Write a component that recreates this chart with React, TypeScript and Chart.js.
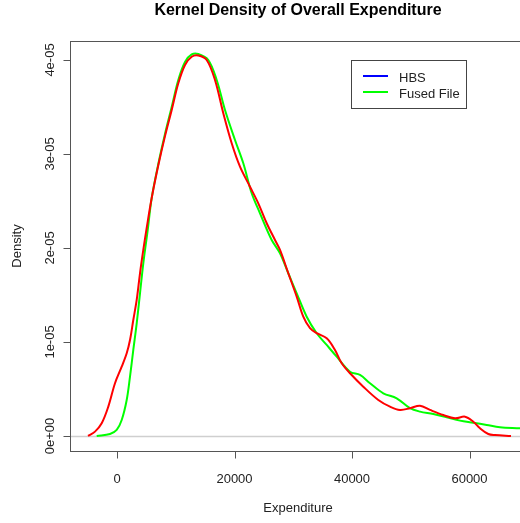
import React, { useEffect, useRef } from "react";
import { Chart, registerables } from "chart.js";

Chart.register(...registerables);

const chartTitle = "Kernel Density of Overall Expenditure";
const xAxisTitle = "Expenditure";
const yAxisTitle = "Density";
const xTicks = [0, 20000, 40000, 60000];
const xTickLabels = ["0", "20000", "40000", "60000"];
const yTicks = [0, 1e-5, 2e-5, 3e-5, 4e-5];
const yTickLabels = ["0e+00", "1e-05", "2e-05", "3e-05", "4e-05"];
const legendLabels = ["HBS", "Fused File"];
const legendColors = ["#0000ff", "#00ff00"];

// HBS kernel density (drawn red)
const hbsX = [
  -4936, -3745, -2604, -1481, -340, 800, 1651, 2213, 2774, 3353, 3915, 4477, 5055,
  5906, 7030, 8170, 9311, 10434, 11574, 12715, 13838,
  15268, 16681, 18094, 19523, 20936, 22638, 24051, 25481, 26894, 27745, 29157,
  30587, 31711, 32851, 33991, 35694, 37106, 38247, 39660, 41923, 44477, 46468,
  48170, 49872, 51574, 53277, 55540, 57532, 59234, 60647, 61787, 63200, 64340, 67063,
];
const hbsY = [
  0, 0.046e-5, 0.135e-5, 0.312e-5, 0.561e-5, 0.737e-5, 0.88e-5, 1.021e-5, 1.234e-5,
  1.447e-5, 1.731e-5, 1.979e-5, 2.213e-5,
  2.532e-5, 2.88e-5, 3.19e-5, 3.468e-5, 3.752e-5, 3.947e-5, 4.035e-5, 4.048e-5,
  4.0e-5, 3.787e-5, 3.433e-5, 3.114e-5, 2.865e-5, 2.652e-5, 2.475e-5, 2.263e-5,
  2.085e-5, 1.979e-5, 1.731e-5, 1.482e-5, 1.269e-5, 1.146e-5, 1.093e-5, 1.039e-5,
  0.915e-5, 0.773e-5, 0.667e-5, 0.524e-5, 0.383e-5, 0.312e-5, 0.277e-5, 0.295e-5,
  0.322e-5, 0.277e-5, 0.223e-5, 0.188e-5, 0.205e-5, 0.152e-5, 0.082e-5, 0.021e-5,
  0.01e-5, 0,
];

// Fused File kernel density (drawn green)
const fusedX = [
  -3455, -1191, -51, 800, 1651, 2213, 2774, 3353, 3915, 4477, 5226,
  5906, 7030, 8170, 9311, 10434, 11574, 12715, 13838,
  15540, 16970, 18383, 20085, 21498, 22928, 24340, 26332, 27745, 29157, 30587,
  32289, 33991, 35694, 37396, 39660, 41362, 43064, 45328, 47609, 49872, 51574,
  53838, 56119, 58383, 60647, 62928, 65191, 68596, 70298,
];
const fusedY = [
  0, 0.021e-5, 0.064e-5, 0.17e-5, 0.383e-5, 0.631e-5, 0.915e-5, 1.199e-5, 1.518e-5,
  1.837e-5, 2.191e-5,
  2.532e-5, 2.894e-5, 3.213e-5, 3.5e-5, 3.787e-5, 3.979e-5, 4.059e-5, 4.064e-5,
  4.0e-5, 3.787e-5, 3.468e-5, 3.149e-5, 2.901e-5, 2.582e-5, 2.369e-5, 2.085e-5,
  1.944e-5, 1.731e-5, 1.518e-5, 1.269e-5, 1.093e-5, 0.968e-5, 0.844e-5, 0.684e-5,
  0.649e-5, 0.561e-5, 0.454e-5, 0.401e-5, 0.295e-5, 0.259e-5, 0.234e-5, 0.199e-5,
  0.163e-5, 0.141e-5, 0.117e-5, 0.093e-5, 0.082e-5, 0.074e-5,
];

const FONT = '"Liberation Sans", Arial, sans-serif';

const rPlotPlugin = {
  id: "rPlot",
  beforeDatasetsDraw(chart: any) {
    const { ctx, chartArea: a, scales } = chart;
    const py = Math.round(scales.y.getPixelForValue(0)) + 0.5;
    ctx.save();
    ctx.strokeStyle = "#cfcfcf";
    ctx.lineWidth = 1.5;
    ctx.beginPath();
    ctx.moveTo(a.left, py);
    ctx.lineTo(a.right, py);
    ctx.stroke();
    ctx.restore();
  },
  afterDraw(chart: any) {
    const { ctx, chartArea: a, scales } = chart;
    const xs = scales.x;
    const ys = scales.y;
    ctx.save();
    // box
    ctx.strokeStyle = "#555555";
    ctx.lineWidth = 1;
    const L = Math.round(a.left) + 0.5;
    const T = Math.round(a.top) + 0.5;
    const R = Math.round(a.right) + 0.5;
    const B = Math.round(a.bottom) + 0.5;
    ctx.strokeRect(L, T, R - L, B - T);
    // ticks
    ctx.beginPath();
    xTicks.forEach((v) => {
      const px = Math.round(xs.getPixelForValue(v)) + 0.5;
      ctx.moveTo(px, B);
      ctx.lineTo(px, B + 7);
    });
    yTicks.forEach((v) => {
      const py = Math.round(ys.getPixelForValue(v)) + 0.5;
      ctx.moveTo(L, py);
      ctx.lineTo(L - 7, py);
    });
    ctx.stroke();
    // tick labels
    ctx.fillStyle = "#222222";
    ctx.font = `13px ${FONT}`;
    ctx.textAlign = "center";
    ctx.textBaseline = "alphabetic";
    xTicks.forEach((v, i) => {
      ctx.fillText(xTickLabels[i], xs.getPixelForValue(v), 483);
    });
    yTicks.forEach((v, i) => {
      ctx.save();
      ctx.translate(53.5, ys.getPixelForValue(v));
      ctx.rotate(-Math.PI / 2);
      ctx.fillText(yTickLabels[i], 0, 0);
      ctx.restore();
    });
    // axis titles
    const cx = (a.left + a.right) / 2;
    const cy = (a.top + a.bottom) / 2;
    ctx.fillText(xAxisTitle, cx, 512);
    ctx.save();
    ctx.translate(21, cy);
    ctx.rotate(-Math.PI / 2);
    ctx.fillText(yAxisTitle, 0, 0);
    ctx.restore();
    // main title
    ctx.font = `bold 16px ${FONT}`;
    ctx.fillStyle = "#000000";
    ctx.fillText(chartTitle, cx, 15);
    // legend
    ctx.fillStyle = "#ffffff";
    ctx.fillRect(352, 60, 115, 48);
    ctx.strokeStyle = "#444444";
    ctx.lineWidth = 1;
    ctx.strokeRect(351.5, 60.5, 115, 48);
    ctx.font = `13px ${FONT}`;
    ctx.textAlign = "left";
    legendLabels.forEach((lab, i) => {
      const ly = 76 + i * 16;
      ctx.strokeStyle = legendColors[i];
      ctx.lineWidth = 2;
      ctx.beginPath();
      ctx.moveTo(363, ly);
      ctx.lineTo(388, ly);
      ctx.stroke();
      ctx.fillStyle = "#222222";
      ctx.fillText(lab, 399, ly + 6);
    });
    ctx.restore();
  },
};

export default function App() {
  const ref = useRef<HTMLCanvasElement | null>(null);
  useEffect(() => {
    if (!ref.current) return;
    const chart = new Chart(ref.current, {
      type: "line",
      data: {
        datasets: [
          {
            label: "HBS",
            data: hbsX.map((x, i) => ({ x, y: hbsY[i] })),
            borderColor: "#ff0000",
            borderWidth: 2,
            pointRadius: 0,
            tension: 0.35,
            fill: false,
          },
          {
            label: "Fused File",
            data: fusedX.map((x, i) => ({ x, y: fusedY[i] })),
            borderColor: "#00ff00",
            borderWidth: 2,
            pointRadius: 0,
            tension: 0.35,
            fill: false,
          },
        ],
      },
      options: {
        animation: false,
        responsive: false,
        devicePixelRatio: 1,
        layout: { padding: { left: 70, right: 14, top: 41, bottom: 72 } },
        plugins: {
          legend: { display: false },
          title: { display: false },
          tooltip: { enabled: false },
        },
        events: [],
        scales: {
          x: { type: "linear", min: -8000, max: 69617, display: false },
          y: { type: "linear", min: -0.16e-5, max: 4.202e-5, display: false },
        },
      },
      plugins: [rPlotPlugin],
    });
    return () => chart.destroy();
  }, []);
  return (
    <div
      style={{
        position: "fixed",
        left: 0,
        top: 0,
        width: 520,
        height: 523,
        overflow: "hidden",
        background: "#ffffff",
      }}
    >
      <canvas ref={ref} width={540} height={523} style={{ width: 540, height: 523, display: "block" }} />
    </div>
  );
}
